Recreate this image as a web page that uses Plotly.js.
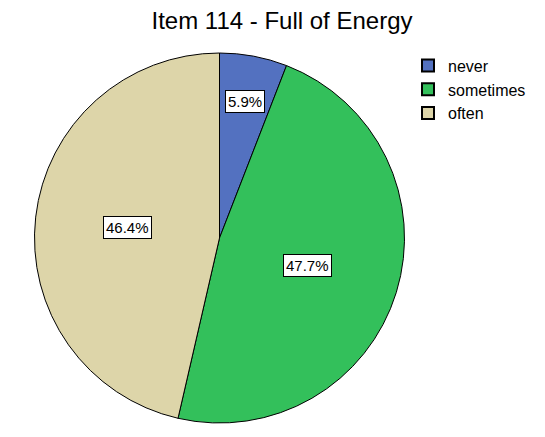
<!DOCTYPE html>
<html>
<head>
<meta charset="utf-8">
<script src="https://cdn.plot.ly/plotly-3.0.1.min.js"></script>
<style>html,body{margin:0;padding:0;background:#fff;}#chart{width:545px;height:437px;}</style>
</head>
<body>
<div id="chart"></div>
<script>
var categories = ["never", "sometimes", "often"];
var percents = [5.9, 47.7, 46.4];
var colors = ["#5371C0", "#33C05B", "#DDD5A9"];
var titleText = "Item 114 - Full of Energy";

var W = 545, H = 437;
var margin = {l: 34, r: 140, t: 53, b: 14, autoexpand: false};
var plotW = W - margin.l - margin.r, plotH = H - margin.t - margin.b;
var Rpx = Math.min(plotW, plotH) / 2;

// label positions derived from the data (clockwise from 12 o'clock)
var total = percents.reduce(function(a, b){ return a + b; }, 0);
var annotations = [];
var cum = 0;
percents.forEach(function(v, i){
  var mid = (cum + v / 2) / total * 2 * Math.PI;
  cum += v;
  var frac = (v / total < 0.1) ? 0.75 : 0.5;
  var dx = Math.sin(mid) * Rpx * frac, dy = Math.cos(mid) * Rpx * frac;
  annotations.push({
    xref: "paper", yref: "paper",
    x: 0.5 + dx / plotW, y: 0.5 + dy / plotH,
    xanchor: "center", yanchor: "middle",
    text: v.toFixed(1) + "%",
    showarrow: false,
    font: {family: "Liberation Sans, Arial, sans-serif", size: 15, color: "#000"},
    bgcolor: "#ffffff", bordercolor: "#000000", borderwidth: 1, borderpad: 2
  });
});

var data = [{
  type: "pie",
  labels: categories,
  values: percents,
  sort: false,
  direction: "clockwise",
  rotation: 0,
  textinfo: "none",
  hoverinfo: "label+percent",
  marker: {colors: colors, line: {color: "#000000", width: 1}}
}];

var layout = {
  width: W, height: H,
  margin: margin,
  paper_bgcolor: "#ffffff",
  title: {text: titleText, x: 282 / W, xref: "container", xanchor: "center",
          y: 1 - 21 / H, yref: "container", yanchor: "middle",
          font: {family: "Liberation Sans, Arial, sans-serif", size: 24, color: "#000"}},
  showlegend: true,
  legend: {x: (408 - 34) / 371, xanchor: "left", y: 1.012, yanchor: "top",
           font: {family: "Liberation Sans, Arial, sans-serif", size: 16, color: "#000"},
           tracegroupgap: 0, itemsizing: "constant"},
  annotations: annotations
};

Plotly.newPlot("chart", data, layout, {staticPlot: true});
</script>
</body>
</html>
